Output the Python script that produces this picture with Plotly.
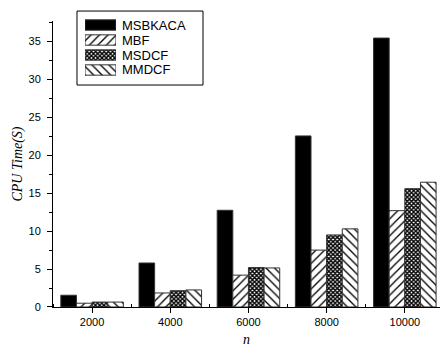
import plotly.graph_objects as go

# Problem sizes on the x axis and CPU time (seconds) for each method
sizes = ["2000", "4000", "6000", "8000", "10000"]
methods = ["MSBKACA", "MBF", "MSDCF", "MMDCF"]
msbkaca = [1.55, 5.8, 12.75, 22.55, 35.45]
mbf = [0.5, 1.85, 4.2, 7.5, 12.7]
msdcf = [0.65, 2.15, 5.2, 9.5, 15.6]
mmdcf = [0.65, 2.25, 5.15, 10.3, 16.45]
series = [msbkaca, mbf, msdcf, mmdcf]

# Fill style per method: (background colour, pattern shape, pattern colour, size, solidity)
styles = [
    ("black", "", "black", 8, 0.3),
    ("white", "/", "black", 6, 0.22),
    ("white", "x", "black", 3, 0.7),
    ("white", "\\", "black", 6, 0.22),
]

xpos = list(range(len(sizes)))
fig = go.Figure()

for name, vals, (bg, shape, fg, sz, sol) in zip(methods, series, styles):
    fig.add_trace(go.Bar(
        x=xpos, y=vals, name=name, showlegend=False,
        marker=dict(color=bg, line=dict(color="#333333", width=1),
                    pattern=dict(shape=shape, fgcolor=fg, bgcolor=bg,
                                 size=sz, solidity=sol, fillmode="replace")),
        xaxis="x", yaxis="y",
    ))

# Key drawn as a small horizontal bar panel with wide swatches
for name, (bg, shape, fg, sz, sol) in zip(methods, styles):
    fig.add_trace(go.Bar(
        x=[1], y=[name], orientation="h", width=0.69, showlegend=False,
        marker=dict(color=bg, line=dict(color="#333333", width=1),
                    pattern=dict(shape=shape, fgcolor=fg, bgcolor=bg,
                                 size=sz, solidity=sol, fillmode="replace")),
        xaxis="x2", yaxis="y2", hoverinfo="skip",
    ))

annotations = [
    dict(x=1, y=name, xref="x2", yref="y2", text=name, showarrow=False,
         xanchor="left", xshift=4, font=dict(family="Arial", size=13, color="black"))
    for name in methods
]

axis_font = dict(family="Arial", size=11, color="black")
title_font = dict(family="Liberation Serif", size=14, color="black")

fig.update_layout(
    width=441, height=347,
    margin=dict(l=53, r=1, t=5, b=40, autoexpand=False),
    paper_bgcolor="white", plot_bgcolor="white",
    barmode="group", bargap=0.2, bargroupgap=0,
    annotations=annotations,
    shapes=[dict(type="rect", xref="paper", yref="paper",
                 x0=0.062, x1=0.3876, y0=0.735, y1=0.980,
                 line=dict(color="black", width=1), fillcolor="rgba(0,0,0,0)")],
    xaxis=dict(
        domain=[0, 1], range=[-0.5, 4.45], automargin=False,
        tickmode="array", tickvals=xpos, ticktext=sizes,
        ticks="outside", ticklen=5, tickwidth=1, tickcolor="black",
        minor=dict(tickmode="linear", tick0=0.5, dtick=1, ticks="inside",
                   ticklen=3, tickwidth=1, tickcolor="black"),
        showline=True, linecolor="black", linewidth=1,
        showgrid=False, zeroline=False, tickfont=axis_font,
        title=dict(text="<i>n</i>", font=title_font, standoff=11),
    ),
    yaxis=dict(
        domain=[0, 0.947], range=[0, 37.7], automargin=False,
        tickmode="linear", tick0=0, dtick=5,
        ticks="outside", ticklen=5, tickwidth=1, tickcolor="black",
        minor=dict(tickmode="linear", tick0=0, dtick=2.5, ticks="outside",
                   ticklen=3, tickwidth=1, tickcolor="black"),
        showline=True, linecolor="black", linewidth=1,
        showgrid=False, zeroline=False, tickfont=axis_font,
        ticklabelstandoff=4,
        title=dict(text="<i>CPU Time(S)</i>", font=title_font, standoff=2),
    ),
    xaxis2=dict(domain=[0.0827, 0.1628], range=[0, 1], anchor="y2",
                visible=False, fixedrange=True),
    yaxis2=dict(domain=[0.7533, 0.9652], anchor="x2", autorange="reversed",
                categoryorder="array", categoryarray=methods,
                visible=False, fixedrange=True),
)

fig.write_html("out.html")
